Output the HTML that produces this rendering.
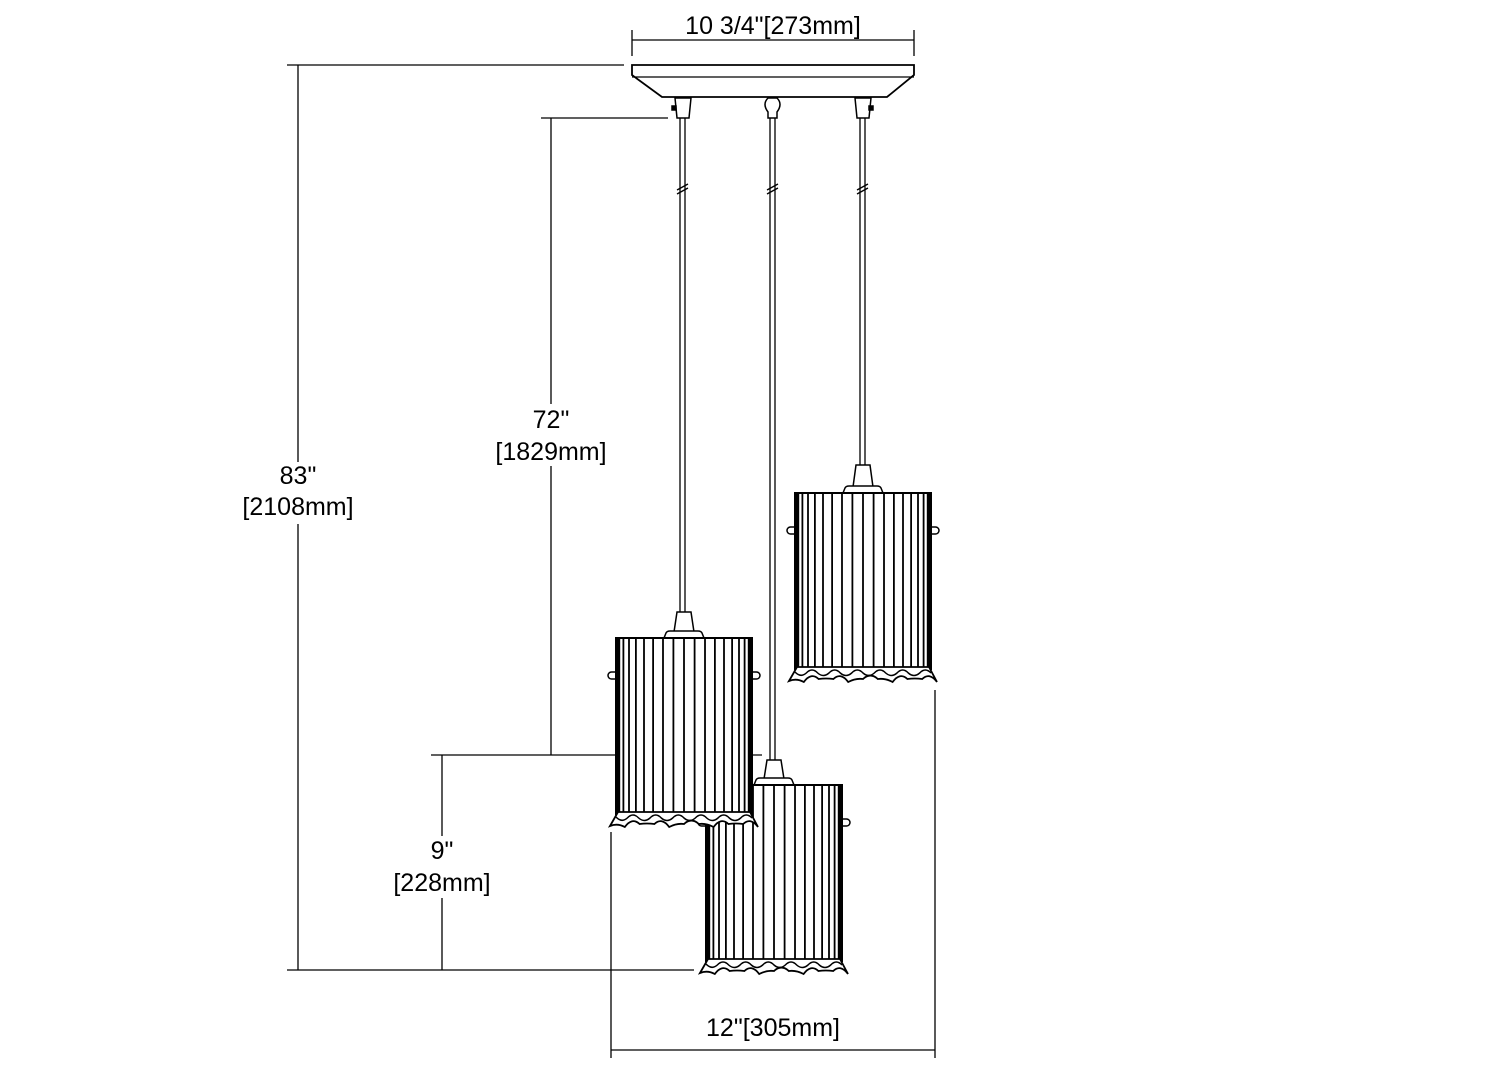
<!DOCTYPE html>
<html><head><meta charset="utf-8"><style>
html,body{margin:0;padding:0;background:#fff;}
svg{display:block;}
text{font-family:"Liberation Sans",Arial,sans-serif;font-size:25px;fill:#000;stroke:none;text-anchor:middle;}
</style></head><body>
<svg id="s" width="1500" height="1071" viewBox="0 0 1500 1071" xmlns="http://www.w3.org/2000/svg" stroke="#000" fill="none" stroke-width="1.5">
<g stroke-width="1.3">
<line x1="632" y1="40" x2="914" y2="40"/><line x1="632" y1="30" x2="632" y2="56"/><line x1="914" y1="30" x2="914" y2="56"/>
<line x1="287" y1="65" x2="624" y2="65"/><line x1="298" y1="65" x2="298" y2="970"/><line x1="287" y1="970" x2="694" y2="970"/>
<line x1="541" y1="118" x2="668" y2="118"/><line x1="551" y1="118" x2="551" y2="755"/><line x1="431" y1="755" x2="762" y2="755"/>
<line x1="442" y1="755" x2="442" y2="970"/>
<line x1="611" y1="1050" x2="935" y2="1050"/><line x1="611" y1="832" x2="611" y2="1058"/><line x1="935" y1="690" x2="935" y2="1058"/>
</g>
<path d="M632 65 L914 65 L914 75 L887 97 L662 97 L632 75 Z" fill="#fff" stroke-width="1.8"/>
<line x1="632" y1="77" x2="914" y2="77" stroke-width="1.2"/>
<path d="M675 98 L691 98 L689 118 L677 118 Z" fill="#fff"/>
<rect x="672" y="106" width="4" height="4" fill="#000"/>
<path d="M855 98 L871 98 L869 118 L857 118 Z" fill="#fff"/>
<rect x="869" y="106" width="4" height="4" fill="#000"/>
<path d="M768 98 L777 98 Q783 104 777 112 L777 118 L768 118 L768 112 Q762 104 768 98 Z" fill="#fff"/>
<g stroke-width="1.3">
<line x1="680" y1="118" x2="680" y2="612"/><line x1="685" y1="118" x2="685" y2="612"/>
<line x1="860" y1="118" x2="860" y2="466"/><line x1="865" y1="118" x2="865" y2="466"/>
<line x1="770" y1="118" x2="770" y2="760"/><line x1="775" y1="118" x2="775" y2="760"/>
<line x1="677" y1="194" x2="688" y2="188"/><line x1="677" y1="190" x2="688" y2="184"/>
<line x1="857" y1="194" x2="868" y2="188"/><line x1="857" y1="190" x2="868" y2="184"/>
<line x1="767" y1="194" x2="778" y2="188"/><line x1="767" y1="190" x2="778" y2="184"/>
</g>
<g id="shades"></g>
<rect x="676" y="8" width="194" height="30" fill="#fff" stroke="none"/>
<text x="773" y="34">10 3/4"[273mm]</text>
<rect x="230" y="462" width="136" height="62" fill="#fff" stroke="none"/>
<text x="298" y="484">83"</text><text x="298" y="515">[2108mm]</text>
<rect x="486" y="404" width="132" height="62" fill="#fff" stroke="none"/>
<text x="551" y="428">72"</text><text x="551" y="460">[1829mm]</text>
<rect x="384" y="836" width="116" height="62" fill="#fff" stroke="none"/>
<text x="442" y="859">9"</text><text x="442" y="891">[228mm]</text>
<text x="773" y="1036">12"[305mm]</text>
</svg>
<script>
(function(){
var g=document.getElementById('shades'),out='';
function shade(x0,top,stemTop){
 var w=136,h=176,cx=x0+w/2,b=top+h;
 var s='';
 s+='<path d="M'+(cx-7)+' '+stemTop+' L'+(cx+7)+' '+stemTop+' L'+(cx+10)+' '+(top-6)+' L'+(cx-10)+' '+(top-6)+' Z" fill="#fff"/>';
 s+='<path d="M'+(cx-20)+' '+top+' L'+(cx-18)+' '+(top-5)+' Q'+(cx-17)+' '+(top-7)+' '+(cx-14)+' '+(top-7)+' L'+(cx+14)+' '+(top-7)+' Q'+(cx+17)+' '+(top-7)+' '+(cx+18)+' '+(top-5)+' L'+(cx+20)+' '+top+'" fill="#fff"/>';
 s+='<rect x="'+(x0-8)+'" y="'+(top+34)+'" width="'+(w+16)+'" height="7" rx="3.5" fill="#fff"/>';
 s+='<rect x="'+x0+'" y="'+top+'" width="'+w+'" height="'+h+'" fill="#fff" stroke-width="2"/>';
 var n=20;
 for(var i=0;i<=n;i++){var t=i/n;var u=0.5-0.5*Math.cos(Math.PI*t);var x=x0+u*w;
  s+='<line x1="'+x.toFixed(1)+'" y1="'+top+'" x2="'+x.toFixed(1)+'" y2="'+b+'" stroke-width="1.8"/>';}
 s+='<line x1="'+(x0+2)+'" y1="'+top+'" x2="'+(x0+2)+'" y2="'+b+'" stroke-width="2.5"/>';
 s+='<line x1="'+(x0+w-2)+'" y1="'+top+'" x2="'+(x0+w-2)+'" y2="'+b+'" stroke-width="2.5"/>';
 var d='M'+(x0-6)+' '+(b+12);
 for(var k=0;k<10;k++){var xa=x0-6+(k+0.5)*(w+12)/10,xb=x0-6+(k+1)*(w+12)/10;
  d+=' Q'+xa.toFixed(1)+' '+(b+(k%2?3:9))+' '+xb.toFixed(1)+' '+(b+(k%3?10:13));}
 d+=' L'+(x0+w-2)+' '+(b-2)+' L'+(x0+2)+' '+(b-2)+' Z';
 s+='<path d="'+d+'" fill="#fff" stroke-width="1.8"/>';
 var d2='M'+(x0)+' '+(b+3);
 for(var k=0;k<12;k++){var xa=x0+(k+0.5)*w/12,xb=x0+(k+1)*w/12;
  d2+=' Q'+xa.toFixed(1)+' '+(b+(k%2?-2:9))+' '+xb.toFixed(1)+' '+(b+4);}
 s+='<path d="'+d2+'" stroke-width="1.5"/>';
 return s;
}
out+=shade(795,493,465);
out+=shade(706,785,760);
out+=shade(616,638,612);
g.innerHTML=out;
})();
</script>
</body></html>
